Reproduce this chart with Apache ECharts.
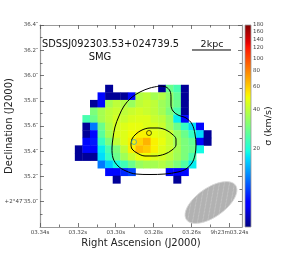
<!DOCTYPE html>
<html><head><meta charset="utf-8">
<script src="https://cdn.jsdelivr.net/npm/echarts@6/dist/echarts.min.js"></script>
<style>html,body{margin:0;padding:0;background:#fff}#c{width:283px;height:254px}</style>
</head><body><div id="c"></div>
<script>
// ---- axes (RA seconds after 9h23m, Dec arcsec after +2°47′) ----
const raMin = 3.23333, raMax = 3.34;
const decMin = 34.8, decMax = 36.4;
const raTicks = [3.34, 3.32, 3.30, 3.28, 3.26, 3.24];
const raTickLabels = ['03.34s', '03.32s', '03.30s', '03.28s', '03.26s', '9h23m03.24s'];
const raMinorTicks = [3.33, 3.31, 3.29, 3.27, 3.25];
const decTicks = [35.0, 35.2, 35.4, 35.6, 35.8, 36.0, 36.2, 36.4];
const decTickLabels = ['+2°47′35.0″', '35.2″', '35.4″', '35.6″', '35.8″', '36.0″', '36.2″', '36.4″'];
const decMinorTicks = [34.9, 35.1, 35.3, 35.5, 35.7, 35.9, 36.1, 36.3];
const cbMin = 5, cbMax = 180;
const cbTicks = [20, 40, 60, 80, 100, 120, 140, 160, 180];

// ---- velocity-dispersion map (km/s), rows top->bottom, cols east->west ----
const gridRA0 = 3.3195, gridDec0 = 35.895, cellRA = 0.004, cellDec = 0.06;
const sigmaRows = [
  [null,null,null,null,5.4, null,null,null,null,null,null,5.4, 28,  24,  5.4, null,null,null],
  [null,null,null,8,   5.4, 5.4, 5.4, 8,   38,  40,  36,  38,  33,  27,  5.4, null,null,null],
  [null,null,5.4, 8,   36,  40,  38,  34,  40,  42,  40,  35,  32,  28,  5.4, null,null,null],
  [null,null,30,  36,  40,  42,  40,  42,  44,  42,  40,  36,  30,  24,  5.4, null,null,null],
  [null,24,  28,  36,  40,  44,  42,  45,  46,  46,  42,  40,  34,  18,  8,   null,null,null],
  [null,5.4, 12,  28,  38,  44,  46,  48,  48,  46,  45,  42,  35,  28,  22,  17,  8,   null],
  [null,5.4, 8,   26,  36,  45,  46,  50,  52,  52,  48,  46,  42,  34,  28,  22,  17,  5.4],
  [null,8,   8.5, 22,  30,  40,  46,  52,  58,  66,  52,  48,  42,  35,  30,  27,  8,   5.4],
  [5.4, 8,   8,   18,  24,  30,  40,  52,  64,  60,  52,  46,  42,  36,  30,  28,  19,  null],
  [5.4, 5.4, 5.4, 17,  22,  28,  35,  42,  48,  50,  46,  44,  40,  35,  30,  24,  null,null],
  [null,null,null,12,  16,  19,  23,  28,  34,  36,  36,  38,  35,  30,  25,  18,  null,null],
  [null,null,null,null,8,   8,   9,   10,  null,null,null,null,8,   7.5, 8,   null,null,null],
  [null,null,null,null,null,5.4, null,null,null,null,null,null,null,5.4, null,null,null,null]
];

// ---- contours (RA s, Dec arcsec) ----
const outerContour = [[3.27663,35.9168],[3.27347,35.9089],[3.27135,35.8772],[3.27083,35.8218],[3.27083,35.7663],[3.26977,35.7188],[3.26713,35.6871],[3.26290,35.6634],[3.25974,35.6158],[3.25815,35.5366],[3.25762,35.4495],[3.25815,35.3703],[3.25974,35.3069],[3.26290,35.2594],[3.26713,35.2356],[3.27399,35.2198],[3.28191,35.2158],[3.28931,35.2198],[3.29459,35.2436],[3.29881,35.2832],[3.30145,35.3465],[3.30198,35.4257],[3.30145,35.5050],[3.30040,35.5921],[3.29828,35.6792],[3.29564,35.7584],[3.29195,35.8218],[3.28720,35.8693],[3.28191,35.9010],[3.27663,35.9168]];
const innerContour = [[3.29195,35.4495],[3.29142,35.4970],[3.28931,35.5366],[3.28614,35.5683],[3.28191,35.5842],[3.27769,35.5842],[3.27347,35.5683],[3.27030,35.5366],[3.26819,35.4970],[3.26819,35.4495],[3.27030,35.4099],[3.27399,35.3782],[3.27927,35.3624],[3.28455,35.3624],[3.28878,35.3861],[3.29142,35.4178],[3.29195,35.4495]];
const blackMarker = [[3.28244, 35.5446]];
const cyanMarker = [[3.29036, 35.4733]];
const beam = [[3.24970, 34.9941, 0.475, 0.23, 35]]; // ra, dec, major", minor", angle
const scaleBar = [[3.25974, 36.202], [3.23914, 36.202]];

// ---- jet colormap (matplotlib) ----
const JR = [[0,0],[0.35,0],[0.66,1],[0.89,1],[1,0.5]];
const JG = [[0,0],[0.125,0],[0.375,1],[0.64,1],[0.91,0],[1,0]];
const JB = [[0,0.5],[0.11,1],[0.34,1],[0.65,0],[1,0]];
function seg(p, t){ for (let i=1;i<p.length;i++){ if (t<=p[i][0]){ const a=p[i-1], b=p[i]; return a[1]+(b[1]-a[1])*(t-a[0])/(b[0]-a[0]); } } return p[p.length-1][1]; }
function jet(t){ const h=v=>Math.round(Math.max(0,Math.min(1,v))*255).toString(16).padStart(2,'0'); return '#'+h(seg(JR,t))+h(seg(JG,t))+h(seg(JB,t)); }
const NJ = 96;
const jetColors = []; for (let i=0;i<NJ;i++) jetColors.push(jet(i/(NJ-1)));

const cellData = [];
sigmaRows.forEach((row, r) => row.forEach((v, c) => {
  if (v != null) cellData.push([gridRA0 - c*cellRA, gridDec0 - r*cellDec, v, Math.log(v)]);
}));

// hatch pattern for beam
const pc = document.createElement('canvas'); pc.width = 7; pc.height = 7;
const pctx = pc.getContext('2d');
pctx.fillStyle = '#b2b2b2'; pctx.fillRect(0,0,7,7);
pctx.strokeStyle = '#c9c9c9'; pctx.lineWidth = 0.8;
pctx.beginPath(); pctx.moveTo(0,7); pctx.lineTo(7,0); pctx.moveTo(-1,1); pctx.lineTo(1,-1); pctx.moveTo(6,8); pctx.lineTo(8,6); pctx.stroke();

const FONT = 'DejaVu Sans';
const axisLineStyle = {color:'#9a9a9a', width:1.2};
const tickStyle = {color:'#555', width:0.8};
const G = {left:40, top:25, width:202, height:202, containLabel:false, outerBoundsMode:'none'};

const chart = echarts.init(document.getElementById('c'), null, {renderer:'canvas'});
chart.setOption({
  animation:false,
  backgroundColor:'#fff',
  grid:[Object.assign({}, G), Object.assign({}, G), {left:245, top:25, width:6, height:202, containLabel:false, outerBoundsMode:'none'}],
  xAxis:[
    {gridIndex:0, type:'value', min:raMin, max:raMax, inverse:true, position:'bottom',
     axisLine:{show:true, lineStyle:axisLineStyle}, splitLine:{show:false},
     axisTick:{inside:true, length:4, lineStyle:tickStyle, customValues:raTicks},
     axisLabel:{customValues:raTicks, formatter:v=>raTickLabels[raTicks.findIndex(t=>Math.abs(t-v)<1e-6)], fontSize:5.5, fontFamily:FONT, color:'#444', margin:3},
     name:'Right Ascension (J2000)', nameLocation:'middle', nameGap:11, nameMoveOverlap:false, nameTextStyle:{fontSize:10, fontFamily:FONT, color:'#222', verticalAlign:'top'}},
    {gridIndex:0, type:'value', min:raMin, max:raMax, inverse:true, position:'top',
     axisLine:{show:true, lineStyle:axisLineStyle}, splitLine:{show:false},
     axisTick:{inside:true, length:4, lineStyle:tickStyle, customValues:raTicks}, axisLabel:{show:false}},
    {gridIndex:1, type:'value', min:raMin, max:raMax, inverse:true, position:'bottom',
     axisLine:{show:false}, splitLine:{show:false},
     axisTick:{inside:true, length:2.5, lineStyle:tickStyle, customValues:raMinorTicks}, axisLabel:{show:false}},
    {gridIndex:1, type:'value', min:raMin, max:raMax, inverse:true, position:'top',
     axisLine:{show:false}, splitLine:{show:false},
     axisTick:{inside:true, length:2.5, lineStyle:tickStyle, customValues:raMinorTicks}, axisLabel:{show:false}},
    {gridIndex:2, type:'value', min:0, max:1, show:false}
  ],
  yAxis:[
    {gridIndex:0, type:'value', min:decMin, max:decMax, position:'left',
     axisLine:{show:true, lineStyle:axisLineStyle}, splitLine:{show:false},
     axisTick:{inside:true, length:4, lineStyle:tickStyle, customValues:decTicks},
     axisLabel:{customValues:decTicks, formatter:v=>decTickLabels[decTicks.findIndex(t=>Math.abs(t-v)<1e-6)], fontSize:5.5, fontFamily:FONT, color:'#444', margin:2},
     name:'Declination (J2000)', nameLocation:'middle', nameGap:26, nameRotate:90, nameMoveOverlap:false, nameTextStyle:{fontSize:10, fontFamily:FONT, color:'#222'}},
    {gridIndex:0, type:'value', min:decMin, max:decMax, position:'right',
     axisLine:{show:true, lineStyle:axisLineStyle}, splitLine:{show:false},
     axisTick:{inside:true, length:4, lineStyle:tickStyle, customValues:decTicks}, axisLabel:{show:false}},
    {gridIndex:1, type:'value', min:decMin, max:decMax, position:'left',
     axisLine:{show:false}, splitLine:{show:false},
     axisTick:{inside:true, length:2.5, lineStyle:tickStyle, customValues:decMinorTicks}, axisLabel:{show:false}},
    {gridIndex:1, type:'value', min:decMin, max:decMax, position:'right',
     axisLine:{show:false}, splitLine:{show:false},
     axisTick:{inside:true, length:2.5, lineStyle:tickStyle, customValues:decMinorTicks}, axisLabel:{show:false}},
    {gridIndex:2, type:'value', min:Math.log(cbMin), max:Math.log(cbMax), position:'right',
     axisLine:{show:false}, splitLine:{show:false},
     axisTick:{show:true, length:2, lineStyle:{color:'#777', width:0.6}, customValues:cbTicks.map(Math.log)},
     axisLabel:{customValues:cbTicks.map(Math.log), formatter:v=>String(Math.round(Math.exp(v))), fontSize:5.5, fontFamily:FONT, color:'#444', margin:2},
     name:'σ (km/s)', nameLocation:'middle', nameRotate:90, nameGap:13, nameMoveOverlap:false, nameTextStyle:{fontSize:9.5, fontFamily:FONT, color:'#222'}}
  ],
  visualMap:[{type:'continuous', show:false, seriesIndex:0, dimension:3, min:Math.log(cbMin), max:Math.log(cbMax), inRange:{color:jetColors}}],
  series:[
    {type:'custom', xAxisIndex:0, yAxisIndex:0, data:cellData, encode:{x:0, y:1},
     renderItem:(params, api)=>{
       const p = api.coord([api.value(0), api.value(1)]);
       const s = api.size([cellRA, cellDec]);
       return {type:'rect', shape:{x:p[0]-s[0]/2-0.2, y:p[1]-s[1]/2-0.2, width:s[0]+0.4, height:s[1]+0.4}, style:{fill:api.visual('color')}};
     }},
    {type:'line', xAxisIndex:0, yAxisIndex:0, data:outerContour, showSymbol:false, symbol:'none', smooth:0.35, lineStyle:{color:'#000', width:1}, z:5},
    {type:'line', xAxisIndex:0, yAxisIndex:0, data:innerContour, showSymbol:false, symbol:'none', smooth:0.35, lineStyle:{color:'#000', width:1}, z:5},
    {type:'scatter', xAxisIndex:0, yAxisIndex:0, data:blackMarker, symbol:'circle', symbolSize:5, itemStyle:{color:'rgba(0,0,0,0)', borderColor:'#000', borderWidth:0.8}, z:6},
    {type:'scatter', xAxisIndex:0, yAxisIndex:0, data:cyanMarker, symbol:'circle', symbolSize:5, itemStyle:{color:'rgba(0,0,0,0)', borderColor:'#2aa8d0', borderWidth:0.9}, z:6},
    {type:'custom', xAxisIndex:0, yAxisIndex:0, data:beam, encode:{x:0, y:1}, z:4,
     renderItem:(params, api)=>{
       const p = api.coord([api.value(0), api.value(1)]);
       const pxPerArcsec = api.size([0, 1])[1];
       return {type:'ellipse', x:p[0], y:p[1], rotation:api.value(4)*Math.PI/180,
         shape:{cx:0, cy:0, rx:api.value(2)/2*pxPerArcsec, ry:api.value(3)/2*pxPerArcsec},
         style:{fill:{image:pc, repeat:'repeat'}, stroke:'#d8d8d8', lineWidth:0.8}};
     }},
    {type:'line', xAxisIndex:0, yAxisIndex:0, data:scaleBar, showSymbol:false, symbol:'none', lineStyle:{color:'#000', width:1}, z:5},
    {type:'custom', xAxisIndex:4, yAxisIndex:4, data:[[0, Math.log(cbMin), Math.log(cbMax)]],
     renderItem:(params, api)=>{
       const a = api.coord([0, api.value(2)]);
       const b = api.coord([1, api.value(1)]);
       const stops = jetColors.map((c,i)=>({offset:i/(NJ-1), color:c}));
       return {type:'rect', shape:{x:a[0], y:a[1], width:b[0]-a[0], height:b[1]-a[1]},
         style:{fill:new echarts.graphic.LinearGradient(0,1,0,0,stops), stroke:'#999', lineWidth:0.8}};
     }}
  ],
  graphic:[
    {type:'text', x:42, y:44.5, style:{text:'SDSSJ092303.53+024739.5', font:'9.8px "DejaVu Sans"', fill:'#111', align:'left', verticalAlign:'middle'}},
    {type:'text', x:100, y:57.5, style:{text:'SMG', font:'10px "DejaVu Sans"', fill:'#111', align:'center', verticalAlign:'middle'}},
    {type:'text', x:212, y:44.5, style:{text:'2kpc', font:'9.5px "DejaVu Sans"', fill:'#111', align:'center', verticalAlign:'middle'}}
  ]
});
</script>
</body></html>
